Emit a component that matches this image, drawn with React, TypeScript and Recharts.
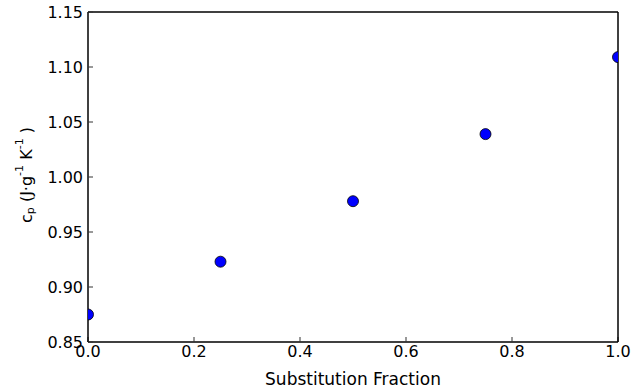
import React from 'react';
import { ScatterChart, Scatter, XAxis, YAxis, Label } from 'recharts';

const fractions = [0, 0.25, 0.5, 0.75, 1.0];
const heatCapacity = [0.875, 0.923, 0.978, 1.039, 1.109];
const xTicks = [0, 0.2, 0.4, 0.6, 0.8, 1.0];
const yTicks = [0.85, 0.9, 0.95, 1.0, 1.05, 1.1, 1.15];

const data = fractions.map((f, i) => ({ x: f, y: heatCapacity[i] }));

const FONT = 'DejaVu Sans, sans-serif';

// Chart layout
const WIDTH = 631;
const HEIGHT = 390;
const MARGIN = { top: 11, right: 12, bottom: 0, left: 0 };
const Y_AXIS_WIDTH = 88;
const X_AXIS_HEIGHT = 48;
const FRAME_AXIS_SIZE = 1;
const PLOT = {
  x: MARGIN.left + Y_AXIS_WIDTH,
  y: MARGIN.top + FRAME_AXIS_SIZE,
  width: WIDTH - MARGIN.left - MARGIN.right - Y_AXIS_WIDTH - FRAME_AXIS_SIZE,
  height: HEIGHT - MARGIN.top - MARGIN.bottom - X_AXIS_HEIGHT - FRAME_AXIS_SIZE,
};

const YLabel = (props: any) => {
  const vb = props.viewBox || {};
  const cx = 26;
  const cy = vb.y + vb.height / 2 - 2;
  return (
    <text
      x={cx}
      y={cy}
      transform={`rotate(-90, ${cx}, ${cy})`}
      textAnchor="middle"
      dominantBaseline="central"
      fontFamily={FONT}
      fontSize={16}
      fill="#000"
    >
      <tspan>c</tspan>
      <tspan dy={4} fontSize={11}>p</tspan>
      <tspan dy={-4}> (J</tspan>
      <tspan>·g</tspan>
      <tspan dy={-7} fontSize={11}>-1</tspan>
      <tspan dy={7}> K</tspan>
      <tspan dy={-7} fontSize={11}>-1</tspan>
      <tspan dy={7}> )</tspan>
    </text>
  );
};

// Marker clipped to the plot area so points on the frame are cut in half.
const Marker = (p: any) => {
  const id = `marker-clip-${p.index ?? 0}`;
  return (
    <g>
      <defs>
        <clipPath id={id}>
          <rect x={PLOT.x} y={PLOT.y} width={PLOT.width} height={PLOT.height} />
        </clipPath>
      </defs>
      <circle
        cx={p.cx}
        cy={p.cy}
        r={5.5}
        fill="#0000ff"
        stroke="#000"
        strokeWidth={0.8}
        clipPath={`url(#${id})`}
      />
    </g>
  );
};

export default function App() {
  const tickStyle = { fontFamily: FONT, fontSize: 16, fill: '#000' };
  const frameLine = { stroke: '#000', strokeWidth: 1.5 };
  const tickLine = { stroke: '#333', strokeWidth: 1 };
  return (
    <div style={{ position: 'absolute', left: 0, top: 0 }}>
      <ScatterChart width={WIDTH} height={HEIGHT} margin={MARGIN}>
        <XAxis
          xAxisId="bottom"
          type="number"
          dataKey="x"
          domain={[0, 1]}
          ticks={xTicks}
          allowDataOverflow
          height={X_AXIS_HEIGHT}
          tickSize={-5}
          tickMargin={9}
          tickFormatter={(v: number) => v.toFixed(1)}
          tick={tickStyle}
          axisLine={frameLine}
          tickLine={tickLine}
        >
          <Label
            value="Substitution Fraction"
            position="insideBottom"
            offset={5}
            style={{ fontFamily: FONT, fontSize: 17, fill: '#000' }}
          />
        </XAxis>
        <XAxis
          xAxisId="top"
          orientation="top"
          type="number"
          dataKey="x"
          domain={[0, 1]}
          ticks={xTicks}
          allowDataOverflow
          height={FRAME_AXIS_SIZE}
          tickSize={-5}
          tick={false}
          axisLine={frameLine}
          tickLine={tickLine}
        />
        <YAxis
          yAxisId="left"
          type="number"
          dataKey="y"
          domain={[0.85, 1.15]}
          ticks={yTicks}
          allowDataOverflow
          width={Y_AXIS_WIDTH}
          tickSize={-5}
          tickMargin={10}
          tickFormatter={(v: number) => v.toFixed(2)}
          tick={tickStyle}
          axisLine={frameLine}
          tickLine={tickLine}
        >
          <Label content={<YLabel />} />
        </YAxis>
        <YAxis
          yAxisId="right"
          orientation="right"
          type="number"
          dataKey="y"
          domain={[0.85, 1.15]}
          ticks={yTicks}
          allowDataOverflow
          width={FRAME_AXIS_SIZE}
          tickSize={-5}
          tick={false}
          axisLine={frameLine}
          tickLine={tickLine}
        />
        {/* Bound to the top/right axes only so the frame axes render; draws nothing. */}
        <Scatter
          data={data}
          xAxisId="top"
          yAxisId="right"
          isAnimationActive={false}
          shape={() => <g />}
        />
        <Scatter
          data={data}
          xAxisId="bottom"
          yAxisId="left"
          fill="#0000ff"
          isAnimationActive={false}
          shape={(p: any) => <Marker {...p} />}
        />
      </ScatterChart>
    </div>
  );
}
